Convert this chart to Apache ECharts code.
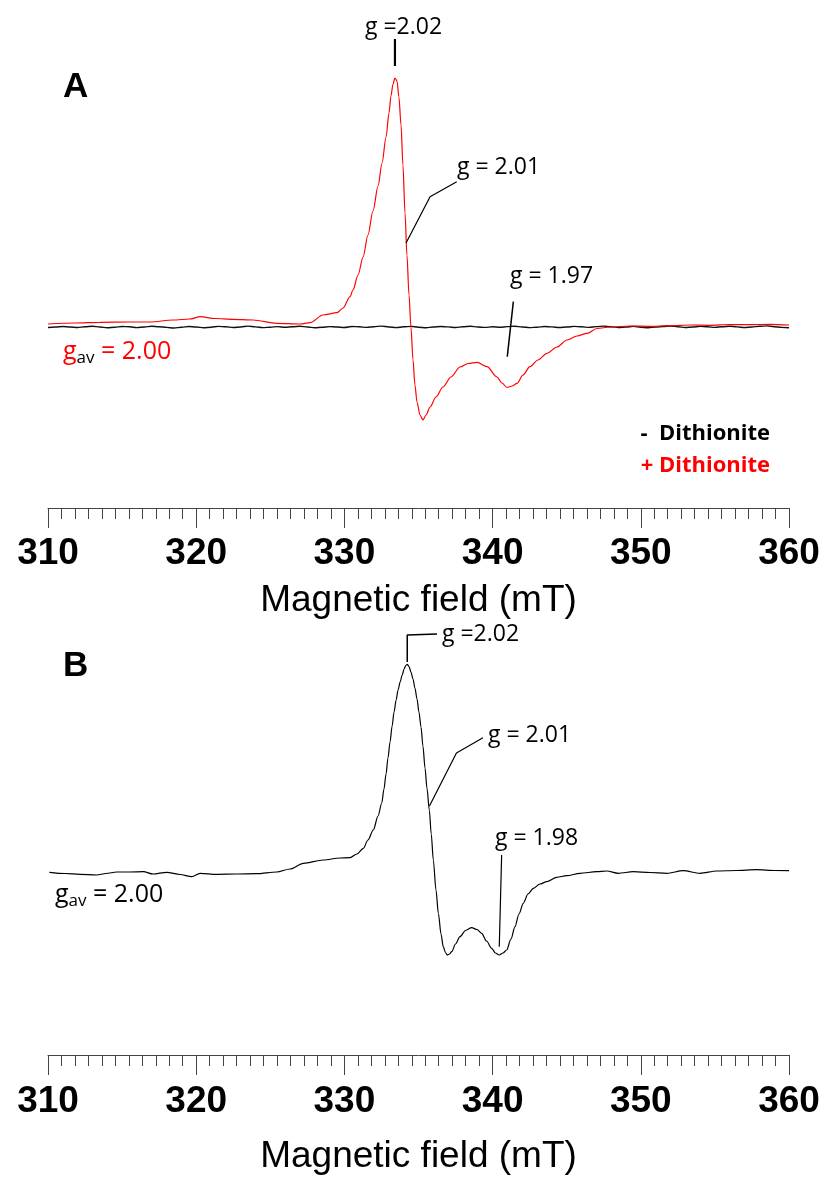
<!DOCTYPE html>
<html><head><meta charset="utf-8">
<script src="https://cdn.jsdelivr.net/npm/echarts@6/dist/echarts.min.js"></script>
<style>html,body{margin:0;padding:0;background:#fff}#c{width:828px;height:1181px}</style>
</head><body><div id="c"></div>
<script>
// ---------- DATA (field in mT, amplitude in arbitrary units) ----------
const xTicks = [310, 320, 330, 340, 350, 360];

// Panel A, - Dithionite (flat, noisy baseline), sampled every 0.5 mT from 310 to 360
const blackA_amp = [-0.5,0,0.5,0,-0.5,0.3,0.8,0,-0.8,-0.3,0.5,0.2,-0.6,0,0.7,0.3,-0.4,-1,-0.2,0.5,0,-0.7,-0.2,0.6,0.2,-0.5,0,0.9,0.1,-0.6,-0.2,0.4,-0.3,0.3,0.8,0,-0.7,-0.3,0.4,0,-0.5,0.5,0.2,-0.4,0.3,0.9,0,-0.6,0.2,0.6,-0.2,-0.8,0,0.5,0.1,-0.5,0.3,0.7,0,-0.4,0.2,-0.3,0.4,0.8,0,-0.6,-0.2,0.5,0.1,-0.5,0,0.6,0.2,-0.4,0.4,0.9,0.2,-0.5,0,0.6,-0.2,-0.7,0,0.5,1,0.3,-0.5,0,0.6,0.2,-0.4,0.3,0.8,0.1,-0.5,0,0.7,1.1,0.3,-0.4,-0.8];

// Panel A, + Dithionite
const redA_field = [310.00,311.82,313.51,315.53,316.88,318.43,319.58,320.26,321.27,322.48,323.83,325.45,327.00,327.68,328.56,329.50,329.91,330.38,330.58,330.92,331.26,331.59,331.93,332.27,332.54,332.81,333.01,333.14,333.28,333.41,333.55,333.68,333.82,333.95,334.09,334.22,334.36,334.49,334.63,334.76,334.90,335.10,335.30,335.51,335.78,336.18,336.65,337.19,337.80,338.34,338.95,339.62,340.30,340.63,340.97,341.31,341.65,342.05,342.52,343.06,343.67,344.35,345.02,345.70,346.37,347.04,347.92,349.27,350.62,351.97,353.32,354.67,356.02,357.37,358.72,360.00];
const redA_amp   = [3,4,4.7,5,5,7,8,10.3,8.5,7.7,7,3.7,3,4.3,12,14.3,19,30.3,37,52,70,92,116,141,164,190,214,231,243,249,246,230,202,162,114,72,32,0,-33,-58,-75,-88,-93,-88,-80,-70,-60,-50,-40,-36.5,-35.3,-39.7,-50,-56,-60.5,-59,-56.3,-48,-39.7,-33,-26.3,-20,-13,-9,-6.3,-1.5,0,1,0.7,1.3,2,1.7,2.5,2.3,2.7,2];

// Panel B
const blackB_field = [310.09,311.15,312.16,313.29,313.91,314.64,315.53,316.43,317.09,318.01,318.91,319.70,320.26,321.38,322.69,324.08,325.43,326.33,327.23,328.58,329.70,330.38,330.85,331.28,331.59,331.95,332.27,332.52,332.67,332.81,332.94,333.08,333.22,333.35,333.49,333.62,333.76,333.90,334.03,334.14,334.24,334.36,334.49,334.63,334.76,334.90,335.03,335.17,335.30,335.44,335.57,335.73,335.86,336.00,336.18,336.34,336.52,336.67,336.82,336.94,337.09,337.24,337.50,337.80,338.17,338.59,338.95,339.26,339.59,339.94,340.19,340.45,340.70,340.95,341.24,341.51,341.78,342.07,342.39,342.75,343.20,343.65,344.33,345.00,345.90,347.02,347.70,348.48,349.49,350.62,351.75,352.87,353.99,355.12,356.42,357.82,359.05,360.00];
const blackB_amp   = [-0.3,-1.5,-2.3,-3,-1.5,0,0,0.3,-2,-0.3,-2.5,-4.7,-1.3,-2.3,-2,-1.7,0,3,8.7,12,14,14.3,18,23.7,32,42,56,69,83,98,114,130,146,160,172,182,190,197,203,206.5,207.7,205.5,200,193,184,173,160,145,126,104,84,62,38,12,-18,-41.3,-62,-74.7,-80.5,-83,-82,-79.7,-72,-64.7,-58.5,-55.7,-57.5,-61.3,-69,-76.3,-81,-83,-81,-78,-67,-54.7,-42,-31.3,-22,-16.3,-12,-9.7,-5.3,-3.7,-1.3,0.3,1,-1.3,0.3,-0.5,-1.3,1.3,-1.3,1,1.5,2.3,1.5,1.3];

// annotation leader lines [field, amplitude]
const leadA_202 = [[333.41,288],[333.41,261]];
const leadA_201 = [[334.16,84],[335.78,130.3],[337.58,145.3]];
const leadA_197 = [[341.40,25.3],[340.99,-29.7]];
const leadB_202 = [[334.24,210],[334.24,237],[336.25,238]];
const leadB_201 = [[335.74,66],[337.56,119],[339.35,134.3]];
const leadB_198 = [[340.45,-74.7],[340.61,17]];

// ---------- CHART ----------
const zip = (f, a) => f.map((v, i) => [v, a[i]]);
const blackA = blackA_amp.map((v, i) => [310 + i * 50 / (blackA_amp.length - 1), v]);

const chart = echarts.init(document.getElementById('c'), null, {renderer: 'canvas'});

const axisFont = 'Liberation Sans, Arial, sans-serif';
const annFont = 'Open Sans, sans-serif';
function xAx(grid, gap, margin) {
  return {
    type: 'value', gridIndex: grid, min: 310, max: 360, interval: 10, position: 'bottom',
    axisLine: {show: true, onZero: false, lineStyle: {color: '#444', width: 1}},
    axisTick: {show: true, length: 20, lineStyle: {color: '#444', width: 1}},
    minorTick: {show: true, splitNumber: 11, length: 11, lineStyle: {color: '#444', width: 1}},
    splitLine: {show: false}, minorSplitLine: {show: false},
    axisLabel: {fontSize: 37, fontWeight: 'bold', color: '#000', fontFamily: axisFont, margin: margin,
      formatter: v => xTicks.includes(v) ? String(v) : ''},
    name: 'Magnetic field (mT)', nameLocation: 'middle', nameGap: gap,
    nameTextStyle: {fontSize: 37, color: '#000', fontFamily: axisFont}
  };
}
function yAx(grid, min, max) {
  return {type: 'value', gridIndex: grid, min: min, max: max, show: false, splitLine: {show: false}};
}
function lineS(data, xi, color, width, smooth) {
  return {type: 'line', xAxisIndex: xi, yAxisIndex: xi, data: data, showSymbol: false, symbol: 'none',
    smooth: smooth, smoothMonotone: 'x', silent: true, animation: false, lineStyle: {color: color, width: width}, z: 3};
}
function lead(data, xi, width) {
  return {type: 'line', xAxisIndex: xi, yAxisIndex: xi, data: data, showSymbol: false, symbol: 'none',
    smooth: false, silent: true, animation: false, lineStyle: {color: '#000', width: width}, z: 4};
}

chart.setOption({
  backgroundColor: '#fff',
  animation: false,
  grid: [
    {left: 48, right: 39, top: 20, height: 488},
    {left: 48, right: 39, top: 600, height: 455}
  ],
  xAxis: [xAx(0, 74, 27), xAx(1, 83, 28)],
  yAxis: [yAx(0, -181, 307), yAx(1, -183, 272)],
  series: [
    lineS(blackA, 0, '#111', 1.4, 0.3),
    lineS(zip(redA_field, redA_amp), 0, '#ff0000', 1.2, 0.3),
    lineS(zip(blackB_field, blackB_amp), 1, '#000', 1.2, 0.3),
    lead(leadA_202, 0, 2.2), lead(leadA_201, 0, 1.2), lead(leadA_197, 0, 1.5),
    lead(leadB_202, 1, 1.5), lead(leadB_201, 1, 1.2), lead(leadB_198, 1, 1.2)
  ],
  graphic: [
    {type: 'text', left: 63, top: 70, style: {text: 'A', font: 'bold 35px Liberation Sans', fill: '#000'}},
    {type: 'text', left: 63, top: 649, style: {text: 'B', font: 'bold 35px Liberation Sans', fill: '#000'}},
    // panel A annotations
    {type: 'text', x: 365, y: 27, style: {text: 'g =2.02', font: '23px ' + annFont, fill: '#000', verticalAlign: 'middle'}},
    {type: 'text', x: 457, y: 167, style: {text: 'g = 2.01', font: '23px ' + annFont, fill: '#000', verticalAlign: 'middle'}},
    {type: 'text', x: 510, y: 276, style: {text: 'g = 1.97', font: '23px ' + annFont, fill: '#000', verticalAlign: 'middle'}},
    {type: 'text', x: 63, y: 352, style: {text: '{g|g}{s|av}{g| = 2.00}', verticalAlign: 'middle',
      rich: {g: {fontSize: 25, fontFamily: annFont, fill: '#ff0000', color: '#ff0000'},
             s: {fontSize: 17, fontFamily: annFont, color: '#ff0000', verticalAlign: 'bottom', padding: [12, 0, 0, 0]}}}},
    {type: 'text', x: 770, y: 434, style: {text: '-  Dithionite', font: 'bold 22px ' + annFont, fill: '#000', align: 'right', verticalAlign: 'middle'}},
    {type: 'text', x: 770, y: 466, style: {text: '+ Dithionite', font: 'bold 22px ' + annFont, fill: '#ff0000', align: 'right', verticalAlign: 'middle'}},
    // panel B annotations
    {type: 'text', x: 442, y: 634, style: {text: 'g =2.02', font: '23px ' + annFont, fill: '#000', verticalAlign: 'middle'}},
    {type: 'text', x: 488, y: 735, style: {text: 'g = 2.01', font: '23px ' + annFont, fill: '#000', verticalAlign: 'middle'}},
    {type: 'text', x: 495, y: 838, style: {text: 'g = 1.98', font: '23px ' + annFont, fill: '#000', verticalAlign: 'middle'}},
    {type: 'text', x: 55, y: 895, style: {text: '{g|g}{s|av}{g| = 2.00}', verticalAlign: 'middle',
      rich: {g: {fontSize: 25, fontFamily: annFont, color: '#000'},
             s: {fontSize: 17, fontFamily: annFont, color: '#000', verticalAlign: 'bottom', padding: [12, 0, 0, 0]}}}}
  ]
});
</script>
</body></html>
